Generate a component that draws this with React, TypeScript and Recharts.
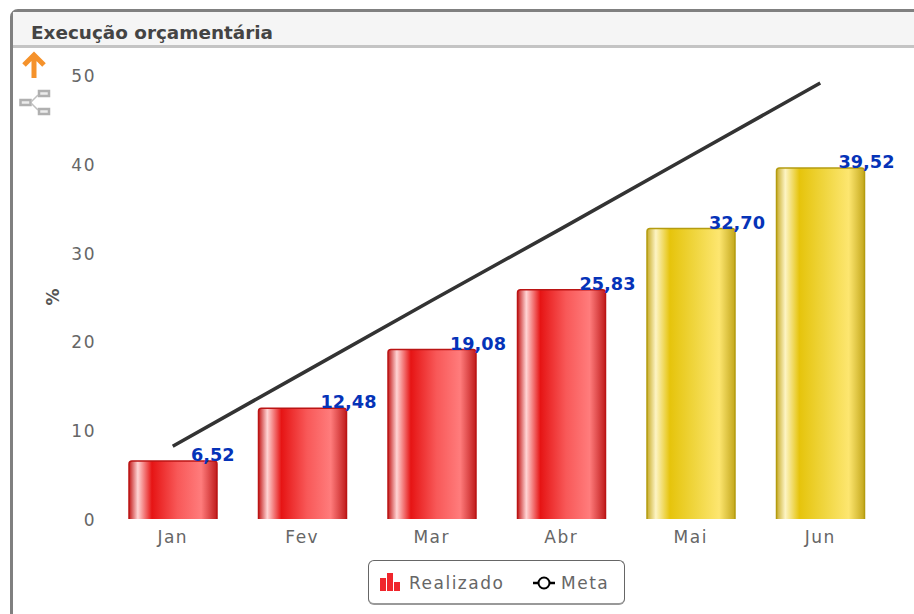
import React from 'react';
import { ComposedChart, Bar, Line, XAxis, YAxis, Legend, LabelList } from 'recharts';

const months = ['Jan', 'Fev', 'Mar', 'Abr', 'Mai', 'Jun'];
const realizado = [6.52, 12.48, 19.08, 25.83, 32.7, 39.52];
const meta = [8.2, 16.4, 24.6, 32.7, 40.9, 49.1];
const barStatus = ['red', 'red', 'red', 'red', 'yellow', 'yellow'];
const yTicks = [0, 10, 20, 30, 40, 50];

const data = months.map((m, i) => ({ month: m, realizado: realizado[i], meta: meta[i] }));

const font = '"DejaVu Sans", sans-serif';
const tickStyle = { fontFamily: font, fontSize: 17, letterSpacing: 1.5, fill: '#666' };

// bar with a gradient body and an outline on the top and sides only
const GlossyBar = (props: any) => {
  const { x, y, width, height, index } = props;
  const red = barStatus[index] === 'red';
  const r = 3;
  const b = y + height;
  const d = `M${x} ${b} L${x} ${y + r} Q${x} ${y} ${x + r} ${y} L${x + width - r} ${y} Q${x + width} ${y} ${x + width} ${y + r} L${x + width} ${b}`;
  return (
    <g>
      <path d={`${d} Z`} fill={red ? 'url(#redBar)' : 'url(#yellowBar)'} />
      <path d={d} fill="none" stroke={red ? '#bb1414' : '#b49c10'} strokeWidth={1.5} />
    </g>
  );
};

// value label sits to the right of the bar centre, on the bar's top edge
const ValueLabel = (props: any) => {
  const { x, y, width, value } = props;
  return (
    <text x={x + width / 2 + 18} y={y} textAnchor="start" fontFamily={font} fontWeight="bold" fontSize={17.7} fill="#0533b8">
      {Number(value).toFixed(2).replace('.', ',')}
    </text>
  );
};

const AxisTitle = (props: any) => {
  const cy = props.viewBox.y + props.viewBox.height / 2;
  return (
    <text x={59} y={cy} transform={`rotate(-90 59 ${cy})`} textAnchor="middle" fontFamily={font} fontWeight="bold" fontSize={17} fill="#555">
      %
    </text>
  );
};

const ChartLegend = () => (
  <div style={{ boxSizing: 'border-box', width: 257, height: 45, border: '1px solid #666', borderBottom: '2px solid #999', borderRadius: 6, background: '#fff', position: 'relative', fontFamily: font, fontSize: 17, letterSpacing: 1.5, color: '#666' }}>
    <svg width={22} height={22} style={{ position: 'absolute', left: 10, top: 10 }}>
      <rect x={1} y={7} width={6} height={13} fill="#f0262c" />
      <rect x={8} y={2} width={6} height={18} fill="#f0262c" />
      <rect x={15} y={11} width={6} height={9} fill="#f0262c" />
    </svg>
    <span style={{ position: 'absolute', left: 40, top: 12 }}>Realizado</span>
    <svg width={24} height={16} style={{ position: 'absolute', left: 163, top: 14 }}>
      <line x1={1} y1={8} x2={23} y2={8} stroke="#000" strokeWidth={2.5} />
      <circle cx={12} cy={8} r={5.5} fill="#fff" stroke="#000" strokeWidth={2} />
    </svg>
    <span style={{ position: 'absolute', left: 192, top: 12 }}>Meta</span>
  </div>
);

export default function App() {
  return (
    <div style={{ position: 'fixed', left: 0, top: 0, width: 914, height: 614, overflow: 'hidden', background: '#fff' }}>
      <div style={{ position: 'absolute', left: 10, top: 9, width: 960, height: 700, boxSizing: 'border-box', border: '3px solid #808080', borderRadius: '8px 0 0 0' }} />
      <div style={{ position: 'absolute', left: 13, top: 12, width: 901, height: 33, background: '#f5f5f5', borderBottom: '3px solid #c4c4c4', fontFamily: font, fontWeight: 'bold', fontSize: 18.4, color: '#444', lineHeight: '41px', paddingLeft: 18 }}>
        Execução orçamentária
      </div>
      <svg width={34} height={66} style={{ position: 'absolute', left: 18, top: 50 }}>
        <path d="M6 15 L16 5 L26 15 M16 6 L16 28" stroke="#f5922b" strokeWidth={5} fill="none" />
        <g fill="#ececec" stroke="#b0b0b0" strokeWidth={2.5}>
          <rect x={2.5} y={50} width={10} height={5} />
          <rect x={21} y={41} width={10} height={5} />
          <rect x={21} y={59} width={10} height={5} />
        </g>
        <path d="M13 52 L20 45 M13 53 L20 60" stroke="#c0c0c0" strokeWidth={1.5} fill="none" />
      </svg>
      <div style={{ position: 'absolute', left: 0, top: 0 }}>
        <ComposedChart width={914} height={614} data={data} margin={{ top: 75, right: 29, bottom: 0, left: 0 }}>
          <defs>
            <linearGradient id="redBar" x1="0" y1="0" x2="1" y2="0">
              <stop offset="0" stopColor="#c41a1a" />
              <stop offset="0.1" stopColor="#ffd4d4" />
              <stop offset="0.26" stopColor="#e61414" />
              <stop offset="0.55" stopColor="#f85858" />
              <stop offset="0.82" stopColor="#ff7c7c" />
              <stop offset="1" stopColor="#c01c1c" />
            </linearGradient>
            <linearGradient id="yellowBar" x1="0" y1="0" x2="1" y2="0">
              <stop offset="0" stopColor="#c8ac28" />
              <stop offset="0.1" stopColor="#fdf4c4" />
              <stop offset="0.26" stopColor="#e6c40c" />
              <stop offset="0.55" stopColor="#f0d640" />
              <stop offset="0.82" stopColor="#fde670" />
              <stop offset="1" stopColor="#c4a81c" />
            </linearGradient>
          </defs>
          <XAxis dataKey="month" height={40} axisLine={false} tickLine={false} tickMargin={6} tick={tickStyle} interval={0} />
          <YAxis
            width={108}
            domain={[0, 50]}
            ticks={yTicks}
            axisLine={false}
            tickLine={false}
            tick={{ ...tickStyle, dy: 1 }}
            tickMargin={6}
            label={<AxisTitle />}
          />
          <Bar dataKey="realizado" barSize={88} shape={<GlossyBar />} isAnimationActive={false}>
            <LabelList dataKey="realizado" content={ValueLabel} />
          </Bar>
          <Line dataKey="meta" stroke="#333" strokeWidth={3.5} dot={false} isAnimationActive={false} />
          <Legend content={<ChartLegend />} height={55} wrapperStyle={{ left: 368, top: 560, width: 257 }} />
        </ComposedChart>
      </div>
    </div>
  );
}
